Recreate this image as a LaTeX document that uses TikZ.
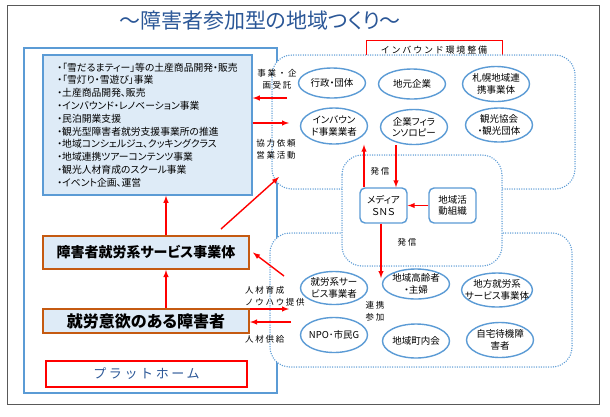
\documentclass[tikz,border=0pt]{standalone}
\usepackage{fontspec}
\setmainfont{Noto Sans CJK JP}[RawFeature=+palt]
\newfontfamily\jpwide{Noto Sans CJK JP}[LetterSpace=20]
\usetikzlibrary{shapes.geometric}

\definecolor{lineblue}{HTML}{5B9BD5}
\definecolor{dotblue}{HTML}{5B9BD5}
\definecolor{paleblue}{HTML}{DEEBF7}
\definecolor{boxorange}{HTML}{C55A11}
\definecolor{titleblue}{HTML}{2B5797}
\definecolor{framegray}{HTML}{595959}

\tikzset{
  region/.style={draw=dotblue, fill=white, line width=1.5pt, rounded corners=20pt,
    dash pattern=on 0pt off 2.4pt, line cap=round},
  org/.style={ellipse, draw=lineblue, line width=1.4pt, fill=white, minimum width=67pt,
    minimum height=33pt, inner xsep=-7pt, inner ysep=-2pt, align=center,
    font=\fontsize{9.5}{11.5}\selectfont},
  media/.style={rectangle, rounded corners=5pt, draw=lineblue, line width=1.4pt, fill=white,
    minimum width=47pt, minimum height=35pt, inner sep=0pt, align=center,
    font=\fontsize{9.5}{11.5}\selectfont},
  actor/.style={draw=boxorange, line width=2pt, fill=paleblue, minimum width=206pt,
    inner sep=0pt, font=\bfseries},
  lab/.style={inner sep=0pt, align=center, font=\jpwide\fontsize{8.5}{12}\selectfont},
  arr/.style={->, red, line width=1.4pt}
}

\begin{document}
\begin{tikzpicture}[x=1pt,y=-1pt,>=latex]
    \useasboundingbox (0,0) rectangle (610,416);

    \draw[framegray, line width=1pt] (7,5) rectangle (599,404);
    \node[text=titleblue, font=\fontsize{21}{24}\selectfont] (title) at (260,21) {～障害者参加型の地域つくり～};

    % platform
    \draw[lineblue, line width=1.5pt] (24,48) rectangle (277,393);
    \node[draw=lineblue, line width=1.5pt, fill=paleblue, minimum width=209pt, minimum height=140pt,
      inner sep=0pt, align=left, font=\fontsize{9.8}{12.8}\selectfont] (list) at (147.5,125) {%
      ・「雪だるまティー」等の土産商品開発・販売\\
      ・「雪灯り・雪遊び」事業\\
      ・土産商品開発、販売\\
      ・インバウンド・レノベーション事業\\
      ・民泊開業支援\\
      ・観光型障害者就労支援事業所の推進\\
      ・地域コンシェルジュ、クッキングクラス\\
      ・地域連携ツアーコンテンツ事業\\
      ・観光人材育成のスクール事業\\
      ・イベント企画、運営};
    \node[actor, minimum height=33pt, font=\bfseries\fontsize{14}{16}\selectfont] (svc) at (146,252.5) {障害者就労系サービス事業体};
    \node[actor, minimum height=24pt, font=\bfseries\fontsize{16}{18}\selectfont] (will) at (146,321) {就労意欲のある障害者};
    \node[draw=red, line width=1.5pt, fill=white, minimum width=201pt, minimum height=26pt, text=titleblue,
      font=\jpwide\fontsize{13}{15}\selectfont] (plat) at (146.5,374) {プラットホーム};

    % regions
    \node[draw=red, line width=1pt, minimum width=136pt, minimum height=20pt,
      font=\jpwide\fontsize{9}{11}\selectfont] (envbox) at (434,50) {インバウンド環境整備};
    \draw[region] (272,55) rectangle (575,189);
    \draw[region] (270,233) rectangle (572,367);
    \draw[region] (342,155) rectangle (502,266);

    \node[org, minimum height=30pt] (gyosei) at (332,83) {行政・団体};
    \node[org, minimum height=30pt] (jimoto) at (412,84) {地元企業};
    \node[org, minimum height=35pt] (sapporo) at (496,84) {札幌地域連\\携事業体};
    \node[org, minimum height=36pt] (inbound) at (334,126) {インバウン\\ド事業業者};
    \node[org, minimum height=35pt] (philan) at (414,127) {企業フィラ\\ンソロピー};
    \node[org, minimum height=34pt] (kanko) at (499,125) {観光協会\\・観光団体};

    \node[media] (sns) at (383.5,205.5) {メディア\\ＳＮＳ};
    \node[media] (katsudo) at (452.5,205.5) {地域活\\動組織};

    \node[org, minimum height=33pt] (shuro) at (334,288) {就労系サー\\ビス事業者};
    \node[org, minimum height=30pt] (korei) at (416,284) {地域高齢者\\・主婦};
    \node[org, minimum height=34pt] (chiho) at (497,290) {地方就労系\\サービス事業体};
    \node[org, minimum height=35pt] (npo) at (334,335) {NPO･市民G};
    \node[org, minimum height=34pt] (chonai) at (416,341) {地域町内会};
    \node[org, minimum height=35pt] (jitaku) at (500,340) {自宅待機障\\害者};

    % labels
    \node[lab] (jutaku) at (277,79) {事業・企\\画受託};
    \node[lab] (irai) at (276,149) {協力依頼\\営業活動};
    \node[lab] (hasshin1) at (380,171) {発信};
    \node[lab] (hasshin2) at (407,242) {発信};
    \node[lab] (renkei) at (375,311) {連携\\参加};
    \node[lab, anchor=west, align=left] (ikusei) at (245,296) {人材育成\\ノウハウ提供};
    \node[lab, anchor=west] (kyokyu) at (245,339) {人材供給};

    % arrows
    \coordinate (ju) at (287,98);
    \coordinate (ir) at (289,123);
    \coordinate (d1) at (221,229);
    \coordinate (d2) at (279,177);
    \coordinate (vx) at (166,0);
    \coordinate (nb) at (284,276);
    \coordinate (ik) at (289,309);
    \coordinate (sk) at (291,322);
    \coordinate (down) at (381,278);
    \coordinate (upx) at (364,0);
    \coordinate (dnx) at (396,0);

    \draw[arr] (ju) -- (ju -| list.east);
    \draw[arr] (ir -| list.east) -- (ir);
    \draw[arr] (d1) -- (d2);
    \draw[arr] (svc.north -| vx) -- (list.south -| vx);
    \draw[arr] (will.north -| vx) -- (svc.south -| vx);
    \draw[arr] (nb) -- ([xshift=3pt]svc.east);
    \draw[arr] (will.east |- ik) -- (ik);
    \draw[arr] (sk) -- (sk -| will.east);

    \draw[arr] (sns.north -| upx) -- (inbound.south -| upx);
    \draw[arr] (philan.south -| dnx) -- (sns.north -| dnx);
    \draw[arr] (katsudo.west) -- (sns.east);
    \draw[arr] (sns.south -| down) -- (down);

\end{tikzpicture}
\end{document}
